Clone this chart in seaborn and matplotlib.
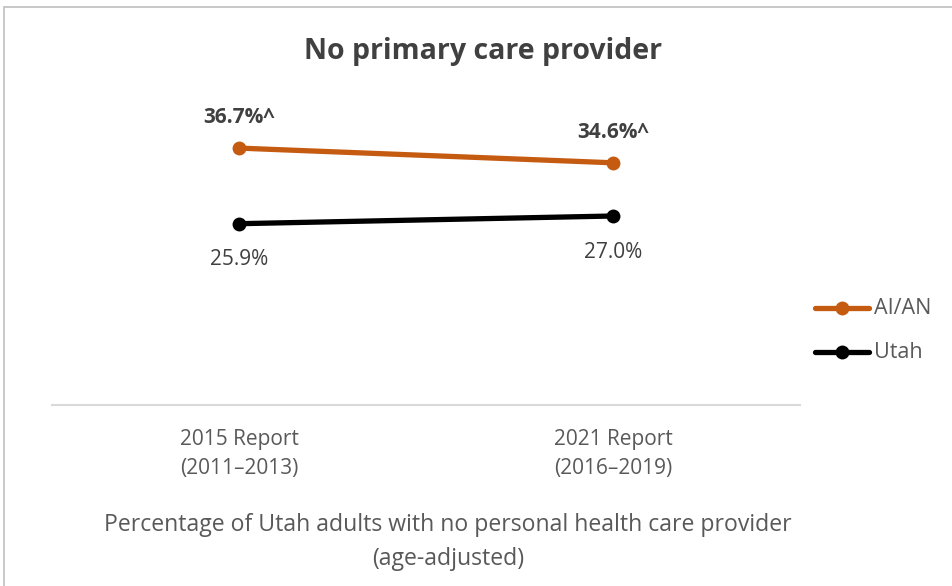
import matplotlib
matplotlib.use("Agg")
import matplotlib.pyplot as plt
import pandas as pd
import seaborn as sns
from matplotlib.patches import Rectangle

periods = ["2015 Report\n(2011\u20132013)", "2021 Report\n(2016\u20132019)"]
series_names = ["AI/AN", "Utah"]
aian_values = [36.7, 34.6]
utah_values = [25.9, 27.0]
aian_labels = ["36.7%^", "34.6%^"]
utah_labels = ["25.9%", "27.0%"]

df = pd.DataFrame({
    "period": periods * 2,
    "pos": [0, 1, 0, 1],
    "series": [series_names[0]] * 2 + [series_names[1]] * 2,
    "value": aian_values + utah_values,
})

sns.set_theme(style="white")
plt.rcParams["font.family"] = ["Open Sans", "DejaVu Sans"]

W, H = 953, 586
fig = plt.figure(figsize=(W / 100, H / 100), dpi=100)
ax = fig.add_axes([52 / W, 1 - 405 / H, (800 - 52) / W, (405 - 125) / H])

palette = {"AI/AN": "#C55A11", "Utah": "#000000"}
sns.lineplot(data=df, x="pos", y="value", hue="series", palette=palette,
             marker="o", markersize=10, linewidth=3.8, markeredgewidth=0,
             ax=ax, legend=False)

ax.set_xlim(-0.5, 1.5)
ax.set_ylim(0, 40)
ax.set_xticks([0, 1])
ax.set_xticklabels(periods, fontsize=15, color="#595959", linespacing=1.5)
ax.tick_params(axis="x", length=0, pad=17)
ax.set_yticks([])
ax.set_ylabel("")
ax.set_xlabel("Percentage of Utah adults with no personal health care provider\n(age-adjusted)",
              fontsize=16.6, color="#595959", labelpad=25, linespacing=1.55)
ax.xaxis.label.set_x((448 - 52) / (800 - 52))
for side in ["top", "left", "right"]:
    ax.spines[side].set_visible(False)
ax.spines["bottom"].set_color("#D9D9D9")
ax.spines["bottom"].set_linewidth(1.5)
ax.patch.set_alpha(0)

# value labels
for i, (v, t) in enumerate(zip(aian_values, aian_labels)):
    ax.annotate(t, (i, v), xytext=(0, 22), textcoords="offset points",
                ha="center", va="center", fontsize=15, fontweight="bold", color="#404040")
for i, (v, t) in enumerate(zip(utah_values, utah_labels)):
    ax.annotate(t, (i, v), xytext=(0, -26), textcoords="offset points",
                ha="center", va="center", fontsize=15, color="#404040")

# title
fig.text(483 / W, 1 - 51 / H, "No primary care provider", ha="center", va="center",
         fontsize=20.5, fontweight="bold", color="#404040")

# legend drawn in figure space
for name, ypix in zip(series_names, [308, 352]):
    y = 1 - ypix / H
    fig.add_artist(plt.Line2D([815 / W, 869 / W], [y, y], color=palette[name],
                              linewidth=3.8, transform=fig.transFigure))
    fig.add_artist(plt.Line2D([842 / W], [y], color=palette[name], marker="o",
                              markersize=10, markeredgewidth=0, transform=fig.transFigure))
    fig.text(874 / W, y, name, ha="left", va="center", fontsize=15.5, color="#595959")

# chart frame
fig.add_artist(Rectangle((4 / W, -0.05), 1.0, 1 - 7 / H + 0.05, transform=fig.transFigure,
                         fill=False, edgecolor="#BFBFBF", linewidth=1.2))

fig.savefig("out.png", dpi=100, facecolor="white")
